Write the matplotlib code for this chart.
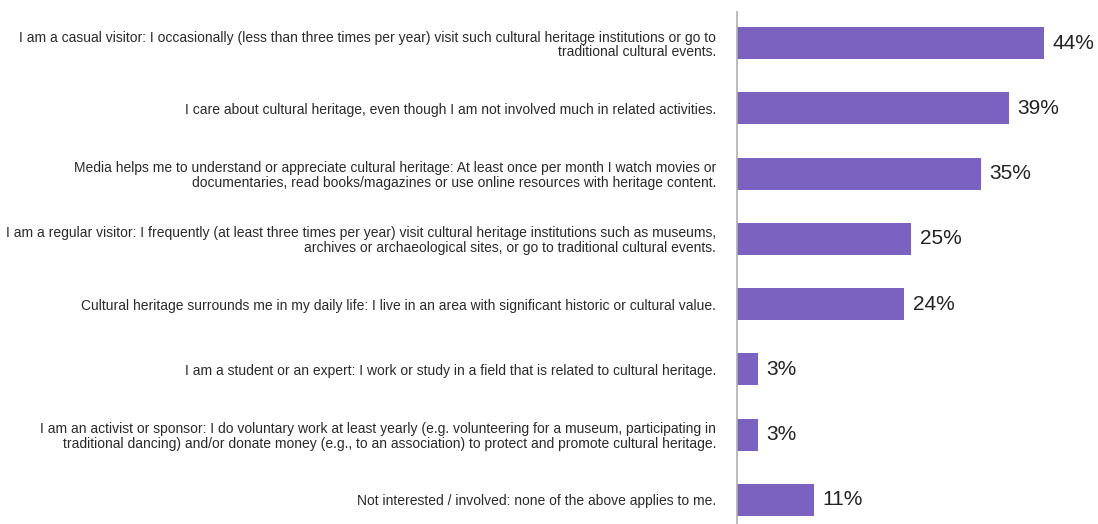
import matplotlib
matplotlib.use("Agg")
import matplotlib.pyplot as plt
from matplotlib import font_manager

categories = [
    "I am a casual visitor: I occasionally (less than three times per year) visit such cultural heritage institutions or go to\ntraditional cultural events.",
    "I care about cultural heritage, even though I am not involved much in related activities.",
    "Media helps me to understand or appreciate cultural heritage: At least once per month I watch movies or\ndocumentaries, read books/magazines or use online resources with heritage content.",
    "I am a regular visitor: I frequently (at least three times per year) visit cultural heritage institutions such as museums,\narchives or archaeological sites, or go to traditional cultural events.",
    "Cultural heritage surrounds me in my daily life: I live in an area with significant historic or cultural value.",
    "I am a student or an expert: I work or study in a field that is related to cultural heritage.",
    "I am an activist or sponsor: I do voluntary work at least yearly (e.g. volunteering for a museum, participating in\ntraditional dancing) and/or donate money (e.g., to an association) to protect and promote cultural heritage.",
    "Not interested / involved: none of the above applies to me.",
]
values = [44, 39, 35, 25, 24, 3, 3, 11]

names = {f.name for f in font_manager.fontManager.ttflist}
label_font = "Liberation Sans Narrow" if "Liberation Sans Narrow" in names else "Liberation Sans"

fig = plt.figure(figsize=(10.98, 5.24), dpi=100)
ax = fig.add_axes([737 / 1098, 0, 1 - 737 / 1098, 512 / 524])

bar_color = "#7B62C0"
ypos = list(range(len(values)))
ax.barh(ypos, values, height=0.49, color=bar_color)
ax.set_ylim(7.37, -0.475)
ax.set_xlim(0, 361 / 6.97)

for y, v in zip(ypos, values):
    ax.text(v + 1.2, y, f"{v}%", va="center", ha="left", fontsize=15,
            family="Liberation Sans", color="#222222")

ax.set_yticks(ypos)
ax.set_yticklabels(categories, fontsize=9.97, family=label_font, color="#2a2a2a",
                   ha="right", linespacing=1.05)
ax.tick_params(axis="y", length=0, pad=15)
ax.set_xticks([])
for s in ["top", "right", "bottom"]:
    ax.spines[s].set_visible(False)
ax.spines["left"].set_color("#B0B0B0")
ax.spines["left"].set_linewidth(1.2)

fig.savefig("out.png", dpi=100)
